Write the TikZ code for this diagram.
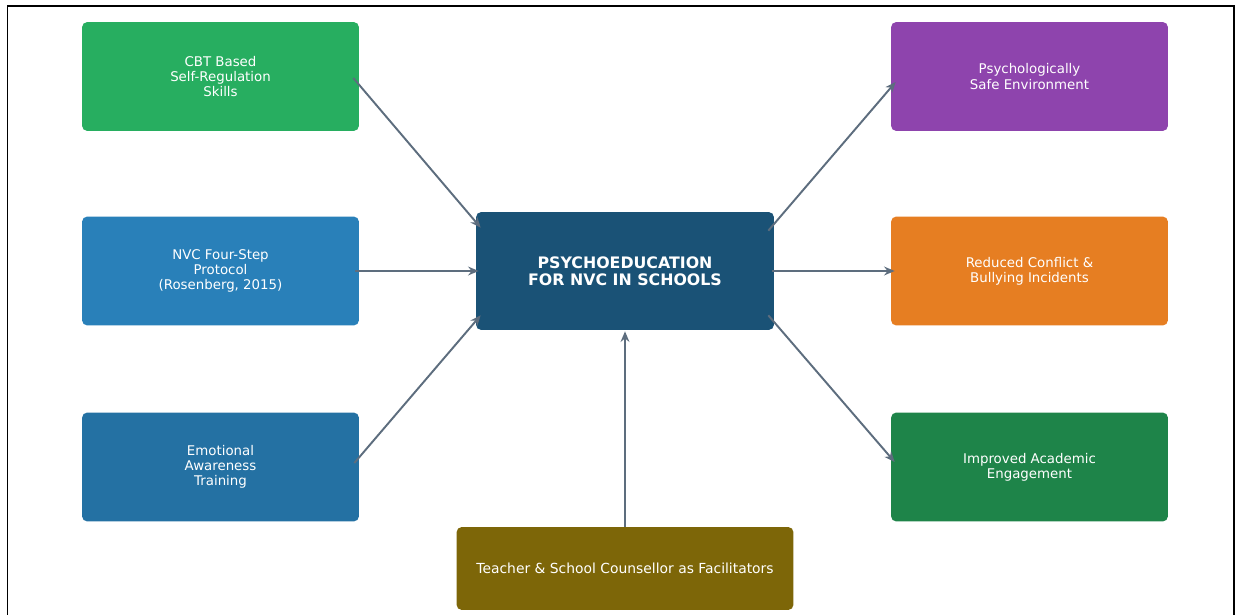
\documentclass[tikz,border=0pt]{standalone}
\usepackage{fontspec}
\setmainfont{DejaVu Sans}
\usetikzlibrary{arrows.meta,calc}
\definecolor{cbtgreen}{HTML}{27AE60}
\definecolor{nvcblue}{HTML}{2980B9}
\definecolor{emoblue}{HTML}{2471A3}
\definecolor{coreblue}{HTML}{1A5276}
\definecolor{safepurple}{HTML}{8E44AD}
\definecolor{conforange}{HTML}{E67E22}
\definecolor{acadgreen}{HTML}{1E8449}
\definecolor{facolive}{HTML}{7D6608}
\definecolor{linkgrey}{HTML}{5D6D7E}
\tikzset{
  box/.style={rounded corners=3pt, inner sep=0pt, text=white, align=center,
    minimum width=5.54cm, minimum height=2.18cm,
    font=\fontsize{7.6}{8.6}\selectfont},
  link/.style={draw=linkgrey, line width=1.1pt, -{Stealth[length=6pt,width=5pt]}},
}
\begin{document}
\begin{tikzpicture}[x=0.02cm, y=-0.02cm]
\useasboundingbox (0,0) rectangle (1241,615);
% outer frame (open at the bottom)
\draw[line width=1.1pt] (7.5,615) -- (7.5,6) -- (1234,6) -- (1234,615);

% input boxes (left column)
\node[box, fill=cbtgreen] (cbt) at (220.5,76.5) {CBT Based\\Self-Regulation\\Skills};
\node[box, fill=nvcblue] (nvc) at (220.5,271) {NVC Four-Step\\Protocol\\(Rosenberg, 2015)};
\node[box, fill=emoblue] (emo) at (220.5,467) {Emotional\\Awareness\\Training};

% central box
\node[box, fill=coreblue, minimum width=5.96cm, minimum height=2.36cm,
  font=\bfseries\fontsize{9.0}{9.8}\selectfont] (core) at (625,271)
  {PSYCHOEDUCATION\\FOR NVC IN SCHOOLS};

% outcome boxes (right column)
\node[box, fill=safepurple] (safe) at (1029.5,76.5) {Psychologically\\Safe Environment};
\node[box, fill=conforange] (conf) at (1029.5,271) {Reduced Conflict \&\\Bullying Incidents};
\node[box, fill=acadgreen] (acad) at (1029.5,467) {Improved Academic\\Engagement};

% facilitators box
\node[box, fill=facolive, minimum width=6.74cm, minimum height=1.66cm,
  font=\fontsize{7.9}{9}\selectfont] (fac) at (625,568.5)
  {Teacher \& School Counsellor as Facilitators};

% connector end points, just inside the box edges
\coordinate (cbtout) at ($(cbt.east)+(-6,1.5)$);
\coordinate (nvcout) at ($(nvc.east)+(-4,0)$);
\coordinate (emoout) at ($(emo.east)+(-5,-4)$);
\coordinate (corenw) at ($(core.north west)+(5,16)$);
\coordinate (corew)  at ($(core.west)+(3,0)$);
\coordinate (coresw) at ($(core.south west)+(5,-15)$);
\coordinate (corene) at ($(core.north east)+(-6,19)$);
\coordinate (coree)  at ($(core.east)+(-2,0)$);
\coordinate (corese) at ($(core.south east)+(-6,-15)$);
\coordinate (coreb)  at ($(core.south)+(0,1)$);
\coordinate (safein) at ($(safe.west)+(5,5.5)$);
\coordinate (confin) at ($(conf.west)+(4,0)$);
\coordinate (acadin) at ($(acad.west)+(4,-5)$);
\coordinate (facout) at (fac.north);

\draw[link] (cbtout) -- (corenw);
\draw[link] (nvcout) -- (corew);
\draw[link] (emoout) -- (coresw);
\draw[link] (corene) -- (safein);
\draw[link] (coree) -- (confin);
\draw[link] (corese) -- (acadin);
\draw[link] (facout) -- (coreb);
\end{tikzpicture}
\end{document}
